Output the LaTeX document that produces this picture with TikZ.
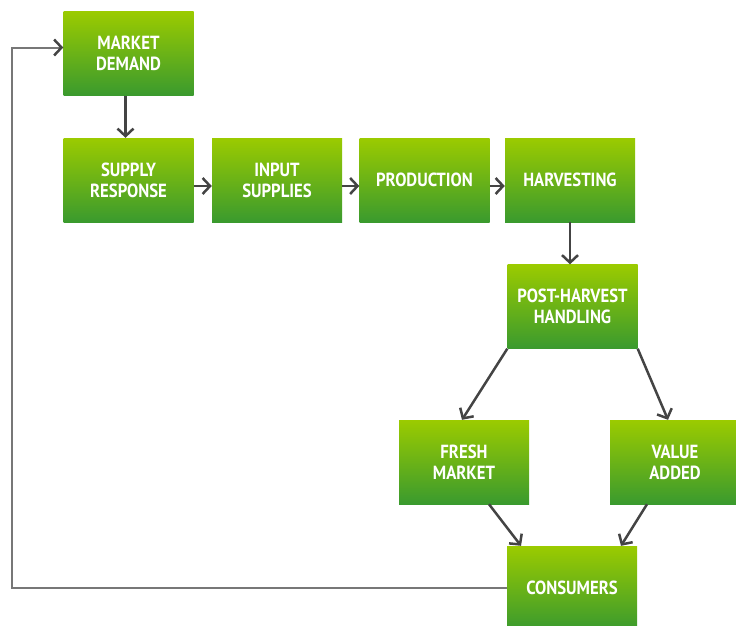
\documentclass[tikz,border=0pt]{standalone}
\usepackage{fontspec}
\setmainfont{PT Sans}[FakeStretch=0.88]
\usetikzlibrary{arrows.meta}
\definecolor{gtop}{HTML}{9BCB00}
\definecolor{gbot}{HTML}{3A9A2E}
\definecolor{arr}{HTML}{444444}
\definecolor{fbl}{HTML}{777777}
\tikzset{
  stage/.style={shading=axis, top color=gtop, bottom color=gbot, draw=none,
    minimum width=130pt, minimum height=84pt, inner sep=0pt, align=center,
    text=white, font=\fontsize{19}{21}\selectfont\bfseries},
  flow/.style={draw=arr, line width=2.5pt, -{Straight Barb[length=7.5pt,width=16pt,line width=2.5pt]}},
  fb/.style={draw=fbl, line width=2pt, arrows={-{Straight Barb[length=7.5pt,width=16pt,line width=2.5pt,color=arr]}}}
}
\begin{document}
\begin{tikzpicture}[x=1pt,y=-1pt]
\useasboundingbox (0,0) rectangle (736,625);
\node[stage] (md) at (128.5,53.5) {MARKET\\DEMAND};
\node[stage] (sr) at (128.5,180) {SUPPLY\\RESPONSE};
\node[stage] (is) at (277,180) {INPUT\\SUPPLIES};
\node[stage] (pr) at (424.5,180) {PRODUCTION};
\node[stage] (hv) at (570,180) {HARVESTING};
\node[stage] (ph) at (572.5,306.5) {POST-HARVEST\\HANDLING};
\node[stage] (fm) at (464,462) {FRESH\\MARKET};
\node[stage] (va) at (675,462) {VALUE\\ADDED};
\node[stage] (co) at (572,588) {CONSUMERS};
\coordinate (fbc) at (12,47.5);
\draw[flow] ([xshift=-3pt]md.south) -- ([xshift=-3pt]sr.north);
\draw[flow] ([yshift=-6pt]sr.east) -- ([yshift=-6pt]is.west);
\draw[flow] ([yshift=-6pt]is.east) -- ([yshift=-6pt]pr.west);
\draw[flow] ([yshift=-6pt]pr.east) -- ([yshift=-6pt]hv.west);
\draw[flow] (hv.south) -- (hv.south |- ph.north);
\draw[flow] (ph.south west) -- ([xshift=-2pt]fm.north);
\draw[flow] (ph.south east) -- ([xshift=-7pt]va.north);
\draw[flow] ([xshift=25pt]fm.south) -- ([xshift=-51pt]co.north);
\draw[flow] ([xshift=-28pt]va.south) -- ([xshift=49pt]co.north);
\draw[fb] (co.west) -| (fbc) -- ([yshift=6pt]md.west);
\end{tikzpicture}
\end{document}
